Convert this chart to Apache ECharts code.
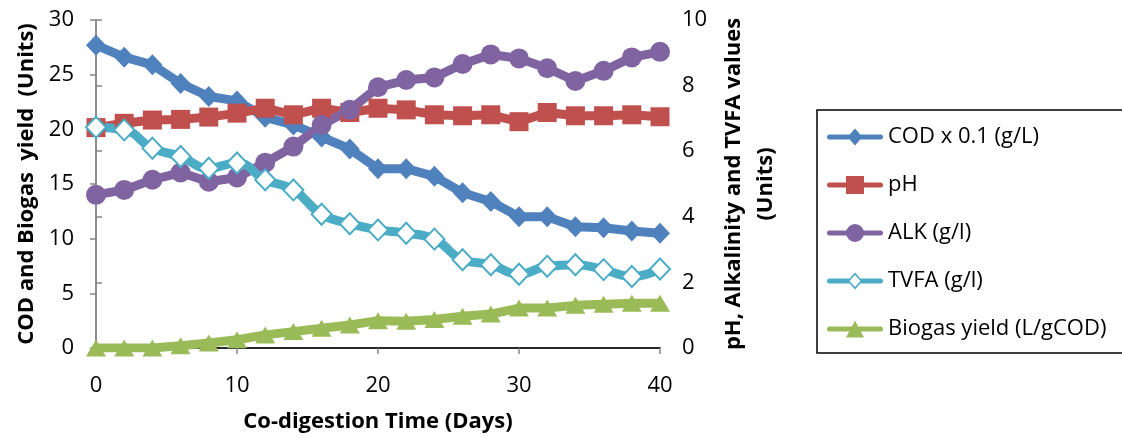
<!DOCTYPE html>
<html><head><meta charset="utf-8">
<script src="https://cdn.jsdelivr.net/npm/echarts@6/dist/echarts.min.js"></script>
<style>html,body{margin:0;padding:0;background:#fff}#c{width:1122px;height:438px}</style>
</head><body><div id="c"></div>
<script>
const days = [0,2,4,6,8,10,12,14,16,18,20,22,24,26,28,30,32,34,36,38,40];
const cod = [27.7,26.6,25.9,24.2,23.0,22.6,21.1,20.4,19.3,18.2,16.4,16.4,15.7,14.2,13.4,12.0,12.0,11.1,11.0,10.7,10.5];
const ph = [6.72,6.85,6.95,6.97,7.04,7.16,7.31,7.11,7.31,7.18,7.31,7.26,7.11,7.08,7.11,6.90,7.18,7.08,7.08,7.11,7.05];
const alk = [4.67,4.82,5.13,5.35,5.07,5.20,5.65,6.14,6.80,7.26,7.95,8.17,8.25,8.66,8.95,8.83,8.53,8.14,8.45,8.86,9.03];
const tvfa = [6.73,6.65,6.09,5.84,5.48,5.64,5.13,4.82,4.08,3.79,3.60,3.50,3.32,2.69,2.54,2.25,2.49,2.54,2.39,2.18,2.41];
const biogas = [0,0,0,0.2,0.45,0.75,1.2,1.5,1.8,2.1,2.5,2.45,2.6,2.9,3.1,3.65,3.65,3.9,4.0,4.1,4.1];
const xTicks = [0,10,20,30,40];
const seriesNames = ['COD x 0.1 (g/L)','pH','ALK (g/l)','TVFA (g/l)','Biogas yield (L/gCOD)'];
const colors = ['#4F81BD','#C0504D','#8064A2','#4BACC6','#9BBB59'];

const FONT = '"Open Sans"';
const pair = arr => days.map((d,i)=>[d,arr[i]]);
const chart = echarts.init(document.getElementById('c'), null, {renderer:'canvas'});
const axisGray = '#868686';
const LW = 9;
const tickLabel = {fontFamily:FONT, fontSize:22, color:'#000'};
const nameStyle = {fontFamily:FONT, fontSize:22, fontWeight:'bold', color:'#000'};

const lineFull = 'M2.5 6.5 H53.5 A2.5 2.5 0 0 1 53.5 11.5 H2.5 A2.5 2.5 0 0 1 2.5 6.5 Z';
const icons = [
  'path://' + lineFull + ' M28 0.5 L35.5 9 L28 17.5 L20.5 9 Z',
  'path://' + lineFull + ' M19 0 H37 V18 H19 Z',
  'path://' + lineFull + ' M19 9 A9 9 0 1 1 37 9 A9 9 0 1 1 19 9 Z',
  'path://M2.5 6.5 H22.3 V11.5 H2.5 A2.5 2.5 0 0 1 2.5 6.5 Z M33.7 6.5 H53.5 A2.5 2.5 0 0 1 53.5 11.5 H33.7 Z' +
    ' M28 0.5 L35.5 9 L28 17.5 L20.5 9 Z M28 2.9 L22.6 9 L28 15.1 L33.4 9 Z',
  'path://' + lineFull + ' M28 0.5 L37 17.5 H19 Z'
];

chart.setOption({
  animation:false,
  textStyle:{fontFamily:FONT},
  grid:{left:96, right:462, top:20, height:328},
  legend:{
    orient:'vertical', left:817, top:110,
    padding:[13,60,10,10],
    borderColor:'#000', borderWidth:1.5,
    itemWidth:56, itemHeight:18, itemGap:20,
    textStyle:{fontFamily:FONT, fontSize:22, color:'#000', lineHeight:28},
    data:seriesNames.map((n,i)=>({name:n, icon:icons[i], itemStyle:{color:colors[i], borderWidth:0}}))
  },
  xAxis:[{
    type:'value', min:0, max:40, interval:10, position:'bottom',
    name:'Co-digestion Time (Days)', nameLocation:'middle', nameGap:63,
    nameTextStyle:nameStyle,
    axisLine:{lineStyle:{color:axisGray, width:1.5}},
    axisTick:{show:true, length:6, lineStyle:{color:axisGray, width:1.5}},
    axisLabel:Object.assign({margin:27, formatter:v=>xTicks.includes(v)?String(v):''}, tickLabel),
    splitLine:{show:false}
  },{
    type:'value', min:0, max:40, position:'top', show:true,
    axisLine:{lineStyle:{color:'#000', width:1.5}},
    axisTick:{show:false}, axisLabel:{show:false}, splitLine:{show:false}
  }],
  yAxis:[{
    type:'value', min:0, max:30, interval:5, position:'left',
    name:'COD and Biogas  yield  (Units)', nameLocation:'middle', nameGap:58, nameRotate:90,
    nameTextStyle:nameStyle,
    axisLine:{show:true, lineStyle:{color:axisGray, width:1.5}},
    axisTick:{show:true, length:6, lineStyle:{color:axisGray, width:1.5}},
    axisLabel:Object.assign({margin:22}, tickLabel),
    splitLine:{show:false}
  },{
    type:'value', min:0, max:10, interval:2, position:'right',
    name:'pH, Alkalinity and TVFA values\n(Units)', nameLocation:'middle', nameGap:58, nameRotate:90,
    nameTextStyle:Object.assign({lineHeight:32, align:'center'}, nameStyle),
    axisLine:{show:true, lineStyle:{color:axisGray, width:1.5}},
    axisTick:{show:true, length:6, lineStyle:{color:axisGray, width:1.5}},
    axisLabel:Object.assign({margin:22}, tickLabel),
    splitLine:{show:false}
  }],
  series:[
    {name:seriesNames[0], type:'line', xAxisIndex:0, yAxisIndex:0, data:pair(cod),
     symbol:'diamond', symbolSize:[20,21], lineStyle:{width:LW, color:colors[0]},
     itemStyle:{color:colors[0]}},
    {name:seriesNames[1], type:'line', xAxisIndex:0, yAxisIndex:1, data:pair(ph),
     symbol:'rect', symbolSize:19, lineStyle:{width:LW, color:colors[1]},
     itemStyle:{color:colors[1]}},
    {name:seriesNames[2], type:'line', xAxisIndex:0, yAxisIndex:1, data:pair(alk),
     symbol:'circle', symbolSize:20, lineStyle:{width:LW, color:colors[2]},
     itemStyle:{color:colors[2]}},
    {name:seriesNames[3], type:'line', xAxisIndex:0, yAxisIndex:1, data:pair(tvfa),
     smooth:0.5, symbol:'diamond', symbolSize:[20,21], lineStyle:{width:LW, color:colors[3]},
     itemStyle:{color:'#fff', borderColor:colors[3], borderWidth:2}},
    {name:seriesNames[4], type:'line', xAxisIndex:0, yAxisIndex:0, data:pair(biogas),
     symbol:'triangle', symbolSize:[20,17], lineStyle:{width:LW, color:colors[4]},
     itemStyle:{color:colors[4]}}
  ]
});
</script></body></html>
